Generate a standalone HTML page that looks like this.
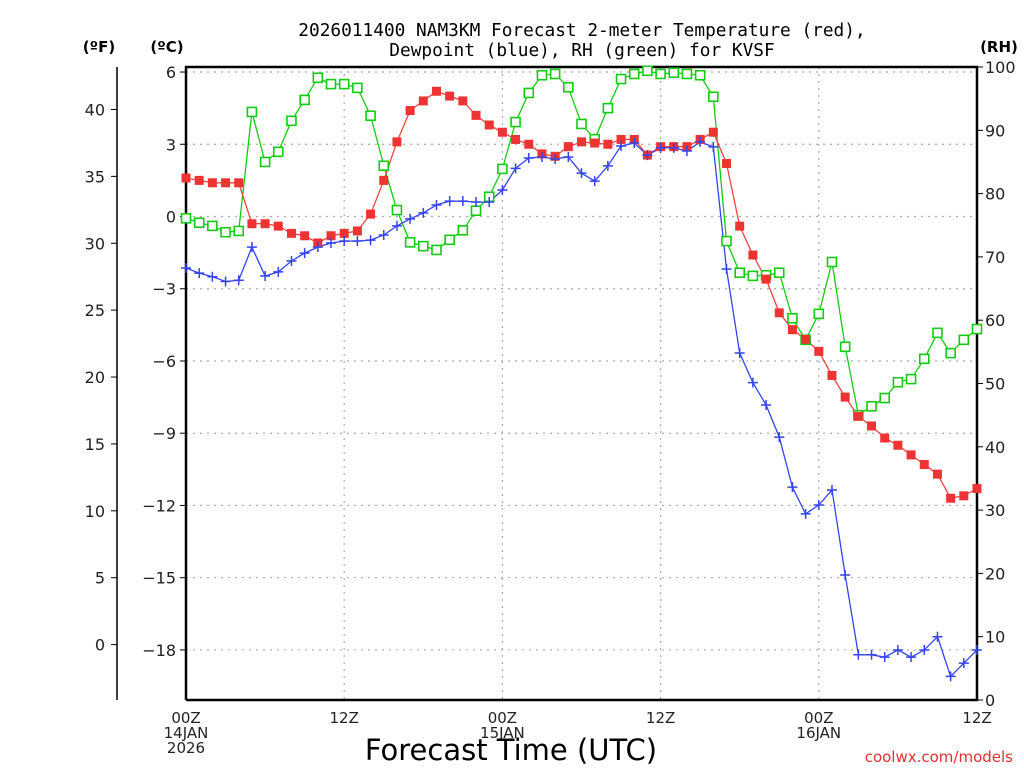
<!DOCTYPE html>
<html><head><meta charset="utf-8"><style>
body{margin:0;background:#fff;width:1024px;height:768px;overflow:hidden}
svg text{font-family:"DejaVu Sans","Liberation Sans",sans-serif}
</style></head><body>
<svg id="chart" width="1024" height="768" viewBox="0 0 1024 768" xmlns="http://www.w3.org/2000/svg">
<g id="grid"></g>
<g id="axes"></g>
<g id="series"></g>
<text x="582" y="36" text-anchor="middle" font-size="17.8" style="font-family:'DejaVu Sans Mono','Liberation Mono',monospace">2026011400 NAM3KM Forecast 2-meter Temperature (red),</text>
<text x="582" y="56" text-anchor="middle" font-size="17.8" style="font-family:'DejaVu Sans Mono','Liberation Mono',monospace">Dewpoint (blue), RH (green) for KVSF</text>
<text x="99" y="52" text-anchor="middle" font-size="15" font-weight="bold">(ºF)</text>
<text x="167" y="52" text-anchor="middle" font-size="15" font-weight="bold">(ºC)</text>
<text x="999" y="52" text-anchor="middle" font-size="15" font-weight="bold">(RH)</text>
<text x="511" y="760" text-anchor="middle" font-size="29">Forecast Time (UTC)</text>
<text x="1013" y="762" text-anchor="end" font-size="15" fill="#e03030">coolwx.com/models</text>
</svg>
<script>
const hours=[];for(let i=0;i<=60;i++)hours.push(i);
const tempC=[1.6,1.5,1.4,1.4,1.4,-0.3,-0.3,-0.4,-0.7,-0.8,-1.1,-0.8,-0.7,-0.6,0.1,1.5,3.1,4.4,4.8,5.2,5.0,4.8,4.2,3.8,3.5,3.2,3.0,2.6,2.5,2.9,3.1,3.05,3.0,3.2,3.2,2.55,2.9,2.9,2.9,3.2,3.5,2.2,-0.4,-1.6,-2.6,-4.0,-4.7,-5.1,-5.6,-6.6,-7.5,-8.3,-8.7,-9.2,-9.5,-9.9,-10.3,-10.7,-11.7,-11.6,-11.3];
const dewC=[-2.14,-2.35,-2.5,-2.7,-2.65,-1.27,-2.47,-2.3,-1.85,-1.52,-1.27,-1.1,-1.02,-1.02,-0.98,-0.77,-0.39,-0.1,0.15,0.48,0.64,0.64,0.6,0.6,1.1,2.0,2.43,2.47,2.39,2.47,1.8,1.47,2.1,2.93,3.05,2.55,2.85,2.85,2.72,3.1,2.89,-2.18,-5.67,-6.9,-7.83,-9.16,-11.24,-12.35,-11.98,-11.36,-14.89,-18.2,-18.2,-18.3,-18.0,-18.3,-18.0,-17.45,-19.1,-18.55,-18.0];
const rh=[76.1,75.4,74.9,73.9,74.1,92.9,85.0,86.6,91.5,94.8,98.3,97.3,97.3,96.7,92.3,84.4,77.4,72.3,71.7,71.1,72.7,74.2,77.3,79.5,83.9,91.3,95.9,98.7,98.9,96.8,91.0,88.6,93.5,98.1,98.9,99.4,98.9,99.1,98.9,98.7,95.3,72.5,67.5,67.0,67.1,67.5,60.3,56.9,61.0,69.2,55.8,45.0,46.4,47.7,50.2,50.7,53.9,58.0,54.8,56.9,58.6];
const cTicks=[6,3,0,-3,-6,-9,-12,-15,-18];
const fTicks=[40,35,30,25,20,15,10,5,0];
const rhTicks=[100,90,80,70,60,50,40,30,20,10,0];
const xTickHours=[0,12,24,36,48,60];
const xTickLabels=[["00Z","14JAN","2026"],["12Z"],["00Z","15JAN"],["12Z"],["00Z","16JAN"],["12Z"]];

const L=186,R=977,T=67,B=700;
const xS=h=>L+(R-L)*h/60;
const yC=c=>216.5-c*24.08;
const yF=f=>yC((f-32)*5/9);
const yR=r=>B-(B-T)*r/100;
const NS="http://www.w3.org/2000/svg";
function mk(tag,attrs,parent,txt){const e=document.createElementNS(NS,tag);for(const k in attrs)e.setAttribute(k,attrs[k]);if(txt!==undefined)e.textContent=txt;parent.appendChild(e);return e;}
const grid=document.getElementById('grid'),axes=document.getElementById('axes'),ser=document.getElementById('series');

cTicks.forEach(c=>{const y=yC(c);
 const g=mk('line',{x1:L,x2:R,y1:y,y2:y,stroke:'#aaa','stroke-dasharray':'2,5','stroke-width':1.2},grid);
 
 const t=mk('line',{x1:L-6,x2:L,y1:y,y2:y,stroke:'#000'},axes);
 
 const l=mk('text',{x:L-10,y:y+6,'text-anchor':'end','font-size':16,fill:'#222'},axes,c<0?'\u2212'+(-c):String(c));
 
});
xTickHours.forEach((h,i)=>{const x=xS(h);
 if(h>0&&h<60){const g=mk('line',{x1:x,x2:x,y1:T,y2:B,stroke:'#aaa','stroke-dasharray':'2,5','stroke-width':1.2},grid);
 }
 xTickLabels[i].forEach((s,j)=>{const t=mk('text',{x:x,y:723+j*15,'text-anchor':'middle','font-size':15,fill:'#222'},axes,s);
 });
});
const fa=mk('line',{x1:117,x2:117,y1:T,y2:B,stroke:'#000','stroke-width':1.5},axes);

fTicks.forEach(f=>{const y=yF(f);
 const t=mk('line',{x1:111,x2:117,y1:y,y2:y,stroke:'#000'},axes);
 
 const l=mk('text',{x:105,y:y+6,'text-anchor':'end','font-size':16,fill:'#222'},axes,String(f));
 
});
rhTicks.forEach(r=>{const y=yR(r);
 const t=mk('line',{x1:R,x2:R+6,y1:y,y2:y,stroke:'#000'},axes);
 
 const l=mk('text',{x:R+8,y:y+6,'font-size':16,fill:'#222'},axes,String(r));
 
});
const frame=mk('path',{d:`M${L},${B}L${L},${T}L${R},${T}L${R},${B}L${L},${B}`,fill:'none',stroke:'#000','stroke-width':2.5},axes);


function line(vals,yf,color,name){
 const d=vals.map((v,i)=>(i?'L':'M')+xS(hours[i]).toFixed(1)+','+yf(v).toFixed(1)).join('');
 const p=mk('path',{d:d,fill:'none',stroke:color,'stroke-width':1.3},ser);
 
}
line(rh,yR,'#11cc11','rh');
line(tempC,yC,'#ee4444','temperature');
line(dewC,yC,'#3344ee','dewpoint');
rh.forEach((v,i)=>{const x=xS(hours[i]),y=yR(v);
 const m=mk('rect',{x:x-4.5,y:y-4.5,width:9,height:9,fill:'#fff',stroke:'#11cc11','stroke-width':1.6},ser);
 });
tempC.forEach((v,i)=>{const x=xS(hours[i]),y=yC(v);
 const m=mk('rect',{x:x-4.5,y:y-4.5,width:9,height:9,fill:'#ee3333'},ser);
 });
dewC.forEach((v,i)=>{const x=xS(hours[i]),y=yC(v);
 const m=mk('path',{d:`M${x-5},${y}H${x+5}M${x},${y-5}V${y+5}`,stroke:'#3344ee','stroke-width':1.5},ser);
 });
</script>
</body></html>
